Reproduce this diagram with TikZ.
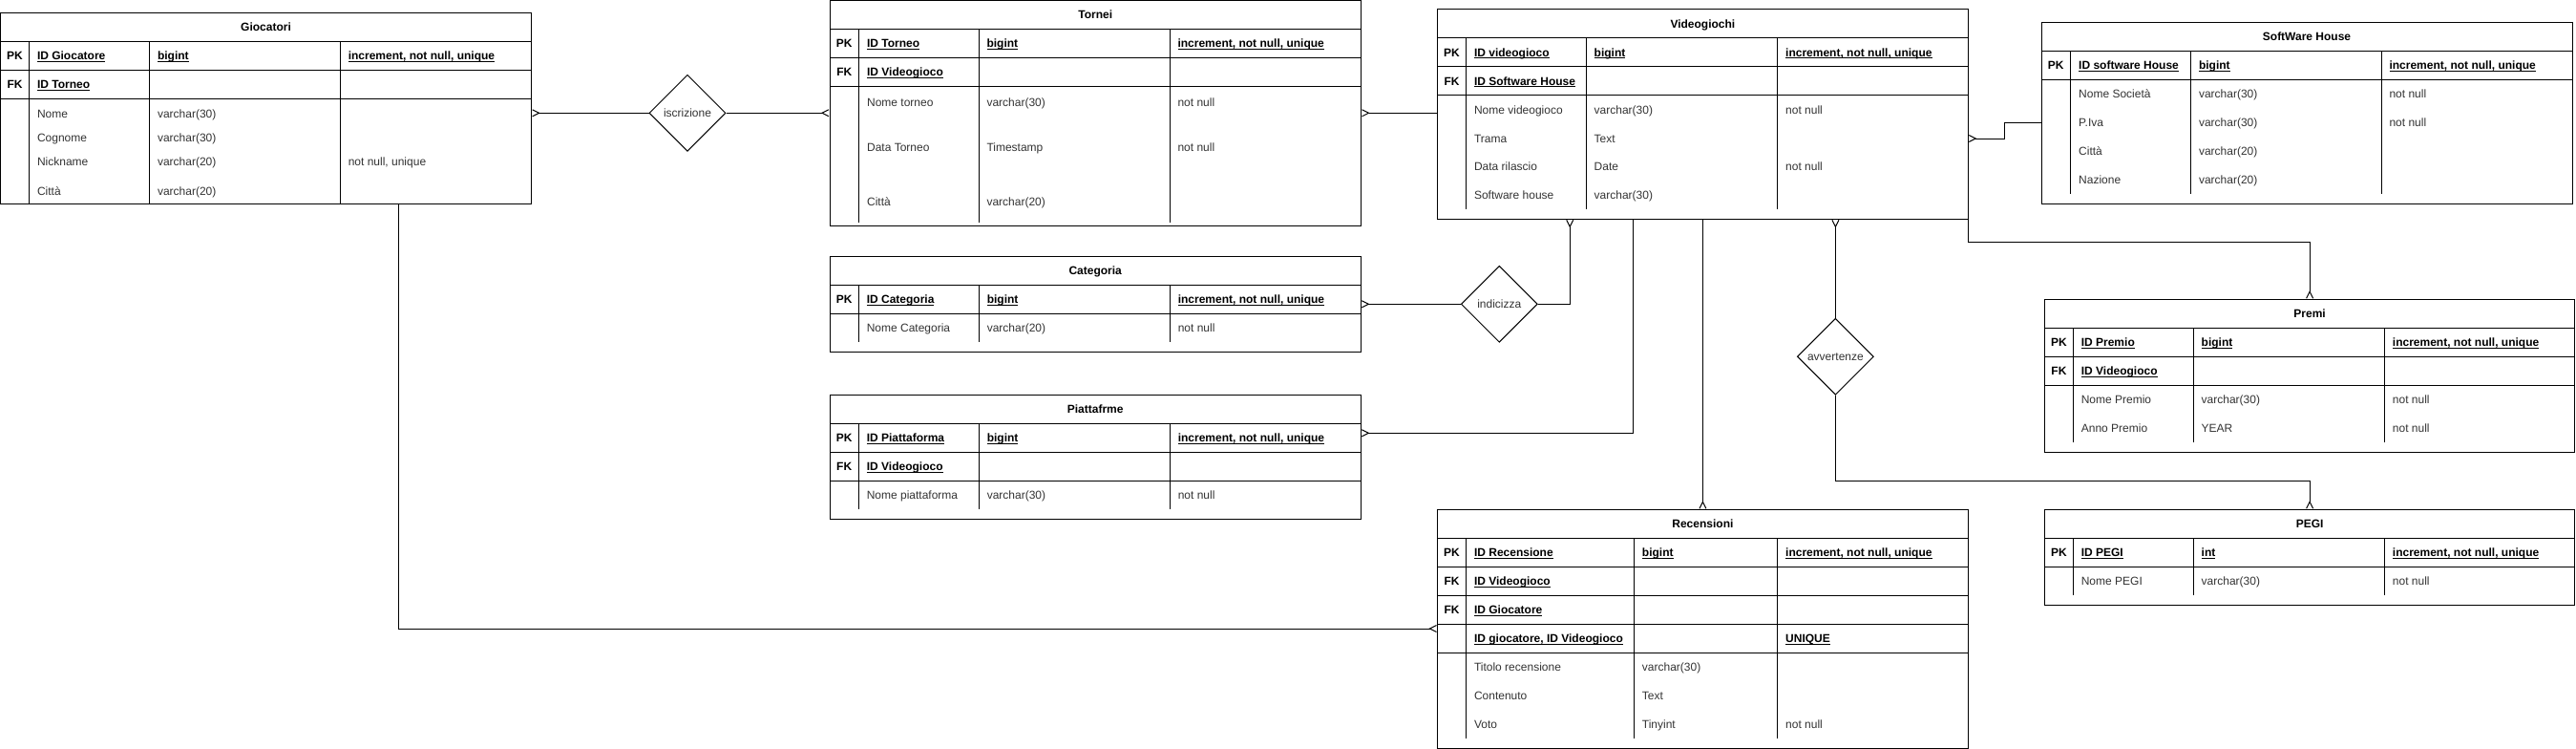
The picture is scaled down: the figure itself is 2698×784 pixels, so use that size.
\documentclass[tikz,border=0pt]{standalone}
\usepackage{fontspec}
\setmainfont{Liberation Sans}
\usetikzlibrary{shapes.geometric,arrows.meta,fit}
\definecolor{txtgray}{HTML}{333333}
\newlength\ulw
\newcommand\myul[1]{\settowidth\ulw{#1}\rlap{\rule[-2pt]{\ulw}{0.9pt}}#1}
\begin{document}
\begin{tikzpicture}[x=1pt,y=-1pt, font=\fontsize{12}{14}\selectfont, line width=1pt,
 tbl/.style={draw, inner sep=0pt, line width=1pt},
 hd/.style={font=\fontsize{12}{14}\selectfont\bfseries, anchor=base, inner sep=0pt},
 bt/.style={font=\fontsize{12}{14}\selectfont\bfseries, anchor=base west, inner sep=0pt},
 rt/.style={anchor=base west, inner sep=0pt, text=txtgray},
 rel/.style={draw, diamond, minimum width=80pt, minimum height=80pt, inner sep=0pt, text=txtgray, line width=1pt},
 conn/.style={line width=1pt, line cap=butt},
 mstart/.style={{Straight Barb[reversed,length=7pt,width=7pt,line width=1pt]}-},
 mend/.style={-{Straight Barb[reversed,length=7pt,width=7pt,line width=1pt]}}
]
\useasboundingbox (0,0) rectangle (2698,784);

% ---------------- Giocatori
\node[tbl, fit={(0.5,13.3) (556.6,213.3)}] (gioc) {};
\draw (0.5,43.3) -- (556.6,43.3) (0.5,73.3) -- (556.6,73.3) (0.5,103.3) -- (556.6,103.3);
\draw (30.5,43.3) -- (30.5,213.3) (156.5,43.3) -- (156.5,213.3) (356.3,43.3) -- (356.3,213.3);
\node[hd] (g0) at (278.5,32.6) {Giocatori};
\node[hd] (g1k) at (15.5,62.6) {PK};
\node[bt] (g1a) at (38.5,62.6) {\myul{ID Giocatore}};
\node[bt] (g1b) at (164.5,62.6) {\myul{bigint}};
\node[bt] (g1c) at (364.3,62.6) {\myul{increment, not null, unique}};
\node[hd] (g2k) at (15.5,92.6) {FK};
\node[bt] (g2a) at (38.5,92.6) {\myul{ID Torneo}};
\node[rt] (g3a) at (38.5,123.3) {Nome};
\node[rt] (g3b) at (164.5,123.3) {varchar(30)};
\node[rt] (g4a) at (38.5,148.6) {Cognome};
\node[rt] (g4b) at (164.5,148.6) {varchar(30)};
\node[rt] (g5a) at (38.5,173.6) {Nickname};
\node[rt] (g5b) at (164.5,173.6) {varchar(20)};
\node[rt] (g5c) at (364.3,173.6) {not null, unique};
\node[rt] (g6a) at (38.5,204.3) {Città};
\node[rt] (g6b) at (164.5,204.3) {varchar(20)};

% ---------------- Tornei
\node[tbl, fit={(869,0.7) (1425.5,236)}] (torn) {};
\draw (869,30.7) -- (1425.5,30.7) (869,60.7) -- (1425.5,60.7) (869,90.7) -- (1425.5,90.7);
\draw (899.6,30.7) -- (899.6,233) (1025,30.7) -- (1025,233) (1225,30.7) -- (1225,233);
\node[hd] (t0) at (1147.2,20) {Tornei};
\node[hd] (t1k) at (884.3,50) {PK};
\node[bt] (t1a) at (907.6,50) {\myul{ID Torneo}};
\node[bt] (t1b) at (1033,50) {\myul{bigint}};
\node[bt] (t1c) at (1233,50) {\myul{increment, not null, unique}};
\node[hd] (t2k) at (884.3,80) {FK};
\node[bt] (t2a) at (907.6,80) {\myul{ID Videogioco}};
\node[rt] (t3a) at (907.6,111.3) {Nome torneo};
\node[rt] (t3b) at (1033,111.3) {varchar(30)};
\node[rt] (t3c) at (1233,111.3) {not null};
\node[rt] (t4a) at (907.6,158.3) {Data Torneo};
\node[rt] (t4b) at (1033,158.3) {Timestamp};
\node[rt] (t4c) at (1233,158.3) {not null};
\node[rt] (t5a) at (907.6,215.3) {Città};
\node[rt] (t5b) at (1033,215.3) {varchar(20)};

% ---------------- Videogiochi
\node[tbl, fit={(1505.5,10) (2061.3,229.3)}] (video) {};
\draw (1505.5,40) -- (2061.3,40) (1505.5,70) -- (2061.3,70) (1505.5,99.7) -- (2061.3,99.7);
\draw (1535.5,40) -- (1535.5,219) (1661.2,40) -- (1661.2,219) (1861.7,40) -- (1861.7,219);
\node[hd] (v0) at (1783.4,29.3) {Videogiochi};
\node[hd] (v1k) at (1520.5,59.3) {PK};
\node[bt] (v1a) at (1543.5,59.3) {\myul{ID videogioco}};
\node[bt] (v1b) at (1669.2,59.3) {\myul{bigint}};
\node[bt] (v1c) at (1869.7,59.3) {\myul{increment, not null, unique}};
\node[hd] (v2k) at (1520.5,89.3) {FK};
\node[bt] (v2a) at (1543.5,89.3) {\myul{ID Software House}};
\node[rt] (v3a) at (1543.5,119.3) {Nome videogioco};
\node[rt] (v3b) at (1669.2,119.3) {varchar(30)};
\node[rt] (v3c) at (1869.7,119.3) {not null};
\node[rt] (v4a) at (1543.5,149.3) {Trama};
\node[rt] (v4b) at (1669.2,149.3) {Text};
\node[rt] (v5a) at (1543.5,178.6) {Data rilascio};
\node[rt] (v5b) at (1669.2,178.6) {Date};
\node[rt] (v5c) at (1869.7,178.6) {not null};
\node[rt] (v6a) at (1543.5,208.6) {Software house};
\node[rt] (v6b) at (1669.2,208.6) {varchar(30)};

% ---------------- SoftWare House
\node[tbl, fit={(2138,23.3) (2694,213.3)}] (swh) {};
\draw (2138,53.3) -- (2694,53.3) (2138,83.3) -- (2694,83.3);
\draw (2168.7,53.3) -- (2168.7,203.3) (2294.5,53.3) -- (2294.5,203.3) (2494,53.3) -- (2494,203.3);
\node[hd] (s0) at (2416,42.6) {SoftWare House};
\node[hd] (s1k) at (2153.3,72.6) {PK};
\node[bt] (s1a) at (2176.7,72.6) {\myul{ID software House}};
\node[bt] (s1b) at (2302.5,72.6) {\myul{bigint}};
\node[bt] (s1c) at (2502,72.6) {\myul{increment, not null, unique}};
\node[rt] (s2a) at (2176.7,102.6) {Nome Società};
\node[rt] (s2b) at (2302.5,102.6) {varchar(30)};
\node[rt] (s2c) at (2502,102.6) {not null};
\node[rt] (s3a) at (2176.7,132.6) {P.Iva};
\node[rt] (s3b) at (2302.5,132.6) {varchar(30)};
\node[rt] (s3c) at (2502,132.6) {not null};
\node[rt] (s4a) at (2176.7,162.6) {Città};
\node[rt] (s4b) at (2302.5,162.6) {varchar(20)};
\node[rt] (s5a) at (2176.7,192.6) {Nazione};
\node[rt] (s5b) at (2302.5,192.6) {varchar(20)};

% ---------------- Categoria
\node[tbl, fit={(869,268.3) (1425.3,368.3)}] (cat) {};
\draw (869,298.3) -- (1425.3,298.3) (869,328.3) -- (1425.3,328.3);
\draw (899.3,298.3) -- (899.3,358.3) (1025.3,298.3) -- (1025.3,358.3) (1225.3,298.3) -- (1225.3,358.3);
\node[hd] (c0) at (1147.2,287.6) {Categoria};
\node[hd] (c1k) at (884.2,317.6) {PK};
\node[bt] (c1a) at (907.3,317.6) {\myul{ID Categoria}};
\node[bt] (c1b) at (1033.3,317.6) {\myul{bigint}};
\node[bt] (c1c) at (1233.3,317.6) {\myul{increment, not null, unique}};
\node[rt] (c2a) at (907.3,347.6) {Nome Categoria};
\node[rt] (c2b) at (1033.3,347.6) {varchar(20)};
\node[rt] (c2c) at (1233.3,347.6) {not null};

% ---------------- Piattafrme
\node[tbl, fit={(869,413.3) (1425.3,543.3)}] (piatt) {};
\draw (869,443.3) -- (1425.3,443.3) (869,473.3) -- (1425.3,473.3) (869,503.3) -- (1425.3,503.3);
\draw (899.3,443.3) -- (899.3,533.3) (1025.3,443.3) -- (1025.3,533.3) (1225.3,443.3) -- (1225.3,533.3);
\node[hd] (p0) at (1147.2,432.6) {Piattafrme};
\node[hd] (p1k) at (884.2,462.6) {PK};
\node[bt] (p1a) at (907.3,462.6) {\myul{ID Piattaforma}};
\node[bt] (p1b) at (1033.3,462.6) {\myul{bigint}};
\node[bt] (p1c) at (1233.3,462.6) {\myul{increment, not null, unique}};
\node[hd] (p2k) at (884.2,492.6) {FK};
\node[bt] (p2a) at (907.3,492.6) {\myul{ID Videogioco}};
\node[rt] (p3a) at (907.3,522.6) {Nome piattaforma};
\node[rt] (p3b) at (1033.3,522.6) {varchar(30)};
\node[rt] (p3c) at (1233.3,522.6) {not null};

% ---------------- Premi
\node[tbl, fit={(2141.5,313.3) (2696.7,473.3)}] (premi) {};
\draw (2141.5,343.3) -- (2696.7,343.3) (2141.5,373.3) -- (2696.7,373.3) (2141.5,403.3) -- (2696.7,403.3);
\draw (2171.3,343.3) -- (2171.3,463.3) (2297.2,343.3) -- (2297.2,463.3) (2497.4,343.3) -- (2497.4,463.3);
\node[hd] (r0) at (2419.1,332.6) {Premi};
\node[hd] (r1k) at (2156.4,362.6) {PK};
\node[bt] (r1a) at (2179.3,362.6) {\myul{ID Premio}};
\node[bt] (r1b) at (2305.2,362.6) {\myul{bigint}};
\node[bt] (r1c) at (2505.4,362.6) {\myul{increment, not null, unique}};
\node[hd] (r2k) at (2156.4,392.6) {FK};
\node[bt] (r2a) at (2179.3,392.6) {\myul{ID Videogioco}};
\node[rt] (r3a) at (2179.3,422.6) {Nome Premio};
\node[rt] (r3b) at (2305.2,422.6) {varchar(30)};
\node[rt] (r3c) at (2505.4,422.6) {not null};
\node[rt] (r4a) at (2179.3,452.6) {Anno Premio};
\node[rt] (r4b) at (2305.2,452.6) {YEAR};
\node[rt] (r4c) at (2505.4,452.6) {not null};

% ---------------- PEGI
\node[tbl, fit={(2141.5,533.3) (2696.7,633.3)}] (pegi) {};
\draw (2141.5,563.3) -- (2696.7,563.3) (2141.5,593.3) -- (2696.7,593.3);
\draw (2171.3,563.3) -- (2171.3,623.3) (2297.2,563.3) -- (2297.2,623.3) (2497.4,563.3) -- (2497.4,623.3);
\node[hd] (e0) at (2419.1,552.6) {PEGI};
\node[hd] (e1k) at (2156.4,582.6) {PK};
\node[bt] (e1a) at (2179.3,582.6) {\myul{ID PEGI}};
\node[bt] (e1b) at (2305.2,582.6) {\myul{int}};
\node[bt] (e1c) at (2505.4,582.6) {\myul{increment, not null, unique}};
\node[rt] (e2a) at (2179.3,612.6) {Nome PEGI};
\node[rt] (e2b) at (2305.2,612.6) {varchar(30)};
\node[rt] (e2c) at (2505.4,612.6) {not null};

% ---------------- Recensioni
\node[tbl, fit={(1505.5,533.3) (2061.3,783.3)}] (rec) {};
\draw (1505.5,563.3) -- (2061.3,563.3) (1505.5,593.3) -- (2061.3,593.3) (1505.5,623.3) -- (2061.3,623.3)
      (1505.5,653.3) -- (2061.3,653.3) (1505.5,683.3) -- (2061.3,683.3);
\draw (1535.5,563.3) -- (1535.5,773.3) (1711.4,563.3) -- (1711.4,773.3) (1861.7,563.3) -- (1861.7,773.3);
\node[hd] (q0) at (1783.4,552.6) {Recensioni};
\node[hd] (q1k) at (1520.5,582.6) {PK};
\node[bt] (q1a) at (1543.5,582.6) {\myul{ID Recensione}};
\node[bt] (q1b) at (1719.4,582.6) {\myul{bigint}};
\node[bt] (q1c) at (1869.7,582.6) {\myul{increment, not null, unique}};
\node[hd] (q2k) at (1520.5,612.6) {FK};
\node[bt] (q2a) at (1543.5,612.6) {\myul{ID Videogioco}};
\node[hd] (q3k) at (1520.5,642.6) {FK};
\node[bt] (q3a) at (1543.5,642.6) {\myul{ID Giocatore}};
\node[bt] (q4a) at (1543.5,672.6) {\myul{ID giocatore, ID Videogioco}};
\node[bt] (q4c) at (1869.7,672.6) {\myul{UNIQUE}};
\node[rt] (q5a) at (1543.5,702.6) {Titolo recensione};
\node[rt] (q5b) at (1719.4,702.6) {varchar(30)};
\node[rt] (q6a) at (1543.5,732.6) {Contenuto};
\node[rt] (q6b) at (1719.4,732.6) {Text};
\node[rt] (q7a) at (1543.5,762.6) {Voto};
\node[rt] (q7b) at (1719.4,762.6) {Tinyint};
\node[rt] (q7c) at (1869.7,762.6) {not null};

% ---------------- relationships
\node[rel] (isc) at (720,118.3) {iscrizione};
\node[rel] (ind) at (1570.3,318.3) {indicizza};
\node[rel] (avv) at (1922.4,373.3) {avvertenze};

% ---------------- connectors
\draw[conn, mstart] (gioc.east |- isc.west) -- (isc.west);
\draw[conn, mend] (isc.east) -- (torn.west |- isc.east);
\draw[conn, mstart] (torn.east |- isc.east) -- (video.west |- isc.east);
\draw[conn, mstart] (video.east |- 0,145) -| (2099,128.3) -- (swh.west |- 0,128.3);
\draw[conn, mend] (video.south east) -- (video.south east |- 0,253.3) -| (premi.north);
\draw[conn, mstart] (video.south -| 1644.2,0) |- (ind.east);
\draw[conn, mend] (ind.west) -- (cat.east |- ind.west);
\draw[conn, mend] (video.south -| 1710.2,0) |- (piatt.east |- 0,453.3);
\draw[conn, mend] (video.south) -- (rec.north);
\draw[conn, mstart] (video.south -| avv.north) -- (avv.north);
\draw[conn, mend] (avv.south) -- (avv.south |- 0,503.3) -| (pegi.north);
\draw[conn, mend] (gioc.south -| 417.4,0) |- (rec.west |- 0,658);
\end{tikzpicture}
\end{document}
